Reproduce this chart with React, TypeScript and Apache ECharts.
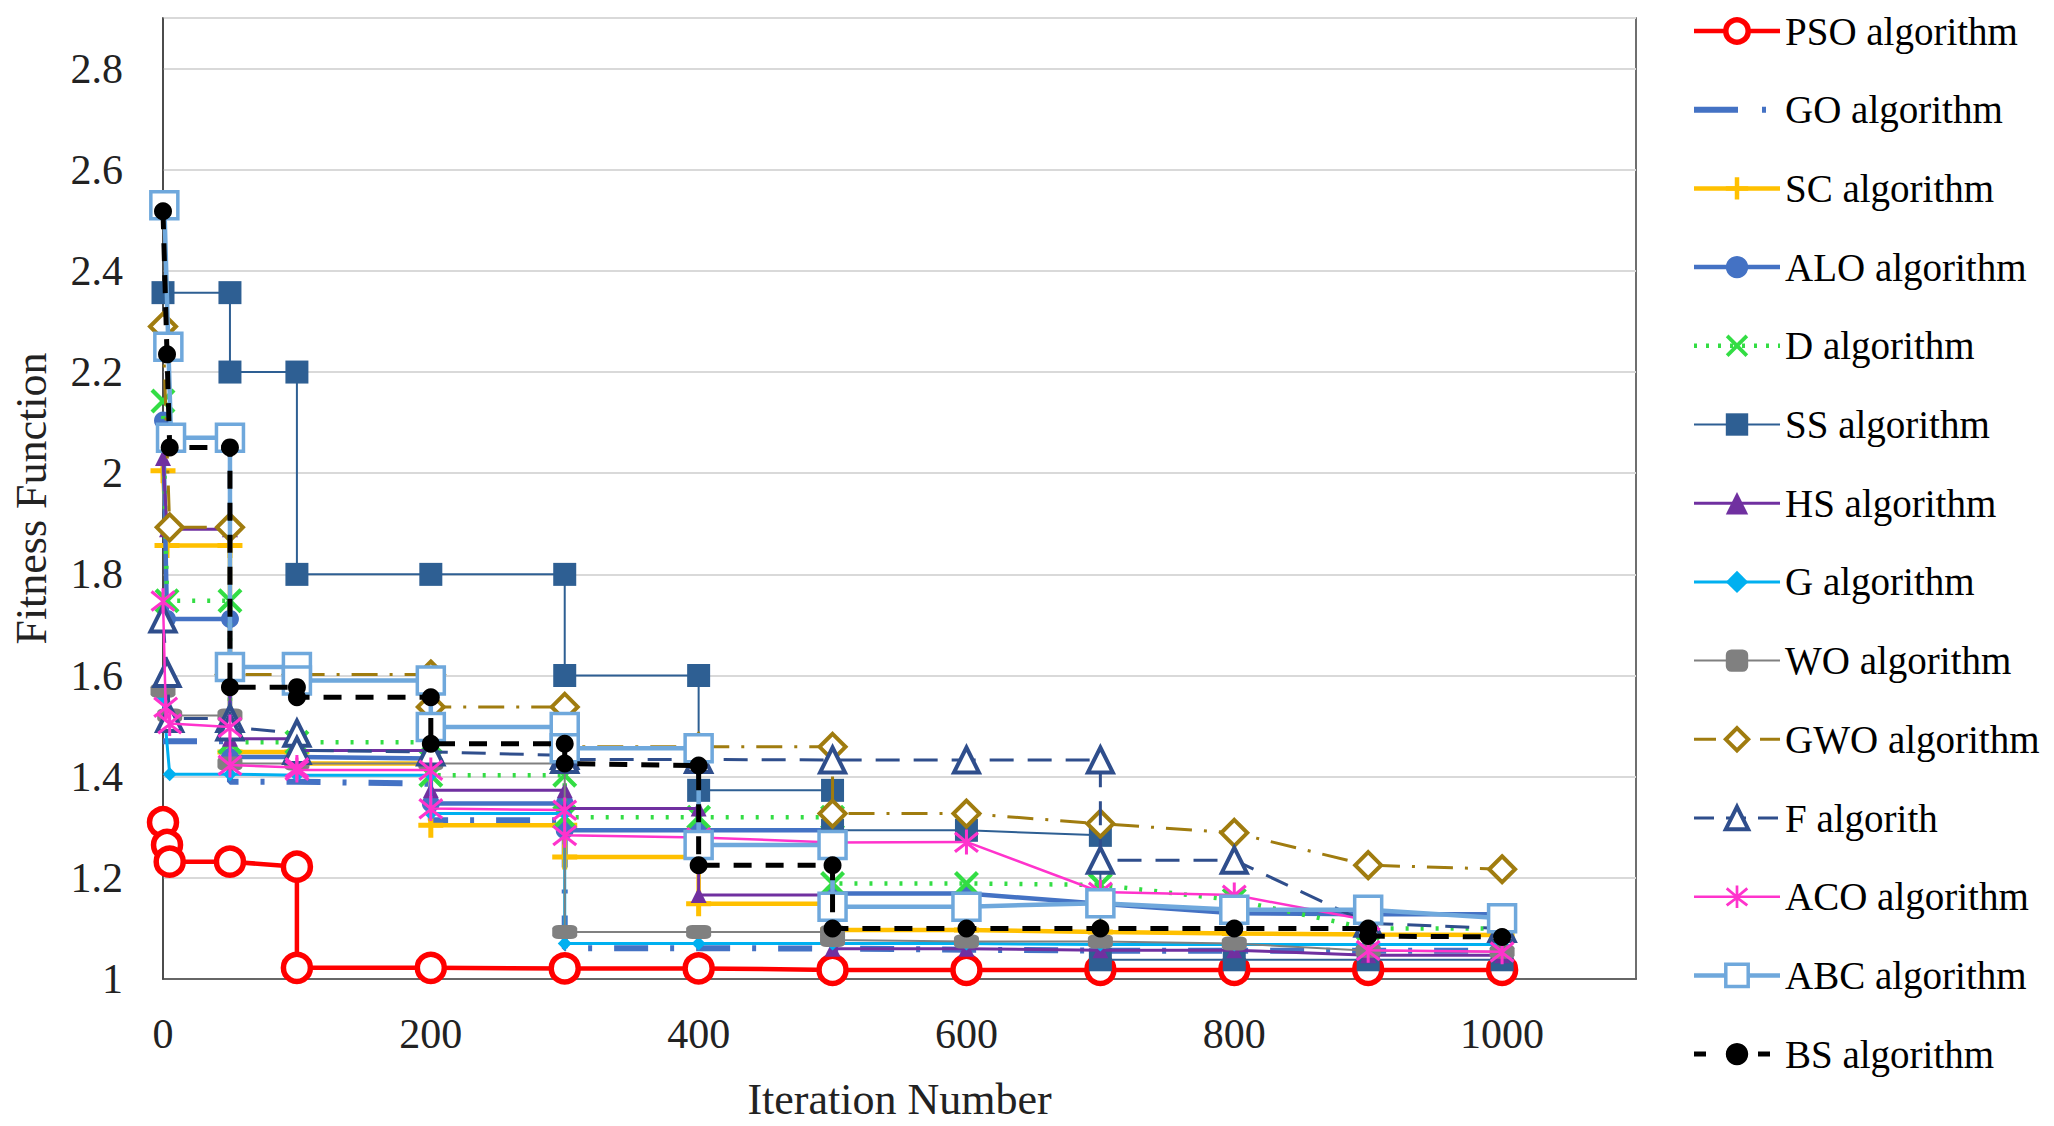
import React, { useEffect, useRef } from "react";
import * as echarts from "echarts";

// ---- data (x = iteration, y = fitness) ----
const names = [
  "PSO algorithm", "GO algorithm", "SC algorithm", "ALO algorithm", "D algorithm",
  "SS algorithm", "HS algorithm", "G algorithm", "WO algorithm", "GWO algorithm",
  "F algorith", "ACO algorithm", "ABC algorithm", "BS algorithm",
];
const xTicks = [0, 200, 400, 600, 800, 1000];

const pso = [[0,1.31],[3,1.265],[5,1.232],[50,1.232],[100,1.222],[100,1.022],[200,1.022],[300,1.021],[400,1.021],[500,1.018],[600,1.018],[700,1.018],[800,1.018],[900,1.018],[1000,1.018]];
const go = [[0,1.47],[50,1.47],[50,1.39],[100,1.39],[200,1.386],[200,1.314],[300,1.314],[300,1.061],[400,1.061],[500,1.06],[600,1.058],[700,1.056],[800,1.056],[900,1.056],[1000,1.056]];
const sc = [[0,2.005],[3,1.857],[50,1.857],[50,1.449],[100,1.449],[100,1.426],[200,1.426],[200,1.304],[300,1.304],[300,1.241],[400,1.241],[400,1.149],[500,1.149],[500,1.097],[600,1.097],[700,1.093],[800,1.09],[900,1.088],[1000,1.087]];
const alo = [[0,2.104],[3,1.712],[50,1.712],[50,1.439],[100,1.439],[200,1.436],[200,1.347],[300,1.347],[300,1.294],[400,1.294],[500,1.294],[500,1.169],[600,1.169],[700,1.149],[800,1.13],[900,1.128],[1000,1.128]];
const dAlg = [[0,2.143],[3,1.748],[50,1.748],[50,1.468],[100,1.468],[200,1.468],[200,1.403],[300,1.403],[300,1.32],[400,1.32],[500,1.32],[500,1.189],[600,1.189],[700,1.186],[800,1.156],[900,1.10],[1000,1.10]];
const ss = [[0,2.357],[50,2.357],[50,2.2],[100,2.2],[100,1.8],[200,1.8],[300,1.8],[300,1.6],[400,1.6],[400,1.373],[500,1.373],[500,1.294],[600,1.294],[700,1.284],[700,1.038],[800,1.038],[900,1.038],[1000,1.038]];
const hs = [[0,2.03],[3,1.889],[50,1.889],[50,1.475],[100,1.475],[100,1.452],[200,1.452],[200,1.373],[300,1.373],[300,1.337],[400,1.337],[400,1.166],[500,1.166],[500,1.06],[600,1.06],[700,1.057],[800,1.057],[900,1.047],[1000,1.047]];
const g = [[0,1.557],[5,1.405],[50,1.405],[100,1.403],[200,1.403],[200,1.327],[300,1.327],[300,1.07],[400,1.07],[500,1.07],[600,1.07],[700,1.068],[800,1.068],[900,1.068],[1000,1.068]];
const wo = [[0,1.57],[5,1.521],[50,1.521],[50,1.426],[100,1.426],[200,1.426],[300,1.426],[300,1.093],[400,1.093],[500,1.093],[500,1.077],[600,1.074],[700,1.074],[800,1.07],[900,1.056],[1000,1.054]];
const gwo = [[0,2.29],[5,1.893],[50,1.893],[50,1.602],[100,1.602],[200,1.602],[200,1.538],[300,1.538],[300,1.459],[400,1.459],[500,1.459],[500,1.327],[600,1.327],[700,1.307],[800,1.289],[900,1.225],[1000,1.217]];
const f = [[0,1.712],[3,1.604],[5,1.515],[50,1.515],[50,1.498],[100,1.486],[100,1.452],[200,1.449],[300,1.442],[300,1.434],[400,1.434],[500,1.433],[600,1.433],[700,1.433],[700,1.235],[800,1.235],[900,1.11],[1000,1.10]];
const aco = [[0,1.748],[2,1.538],[5,1.505],[50,1.498],[50,1.423],[100,1.418],[100,1.413],[200,1.413],[200,1.337],[300,1.334],[300,1.284],[400,1.28],[500,1.27],[600,1.271],[700,1.172],[800,1.166],[900,1.116],[900,1.057],[1000,1.054]];
const abc = [[1,2.53],[4,2.25],[6,2.07],[50,2.07],[50,1.617],[100,1.617],[100,1.59],[200,1.59],[200,1.498],[300,1.498],[300,1.456],[400,1.456],[400,1.265],[500,1.265],[500,1.143],[600,1.143],[700,1.15],[800,1.137],[900,1.137],[1000,1.12]];
const bs = [[0,2.518],[3,2.235],[5,2.051],[50,2.051],[50,1.577],[100,1.577],[100,1.557],[200,1.557],[200,1.465],[300,1.465],[300,1.426],[400,1.422],[400,1.225],[500,1.225],[500,1.10],[600,1.10],[700,1.10],[800,1.10],[900,1.10],[900,1.085],[1000,1.083]];

const FONT = "'Liberation Serif', 'Times New Roman', serif";

const PLUS = "path://M4,0H6V4H10V6H6V10H4V6H0V4H4Z";
const XMARK = "path://M0,1.2L1.2,0L5,3.8L8.8,0L10,1.2L6.2,5L10,8.8L8.8,10L5,6.2L1.2,10L0,8.8L3.8,5Z";
const STAR = "path://M4.4,0H5.6V10H4.4Z M0,1.8L0.8,0.8L5,4.3L9.2,0.8L10,1.8L5.8,5.2L10,8.4L9.2,9.4L5,6.1L0.8,9.4L0,8.4L4.2,5.2Z";

type Cfg = {
  data: number[][];
  color: string;
  width: number;
  dash?: any;
  legendDash?: any;
  symbol: string;
  size: any;
  hollow?: boolean;
  border?: number;
};

const cfgs: Cfg[] = [
  { data: pso, color: "#FF0000", width: 4.5, symbol: "circle", size: 27, hollow: true, border: 5.5 },
  { data: go, color: "#4472C4", width: 6, dash: [34, 22, 4, 22], legendDash: [44, 24, 4, 30], symbol: "none", size: 0 },
  { data: sc, color: "#FFC000", width: 4.5, symbol: PLUS, size: 25 },
  { data: alo, color: "#4472C4", width: 4.5, symbol: "circle", size: 18 },
  { data: dAlg, color: "#33DD44", width: 4.5, dash: [3, 12], legendDash: [3, 9], symbol: XMARK, size: 25 },
  { data: ss, color: "#2E5F93", width: 2, symbol: "rect", size: 23 },
  { data: hs, color: "#7030A0", width: 3, symbol: "triangle", size: 16 },
  { data: g, color: "#00B0F0", width: 3, symbol: "diamond", size: 14 },
  { data: wo, color: "#808080", width: 2, symbol: "roundRect", size: [25, 14] },
  { data: gwo, color: "#A07C0F", width: 3, dash: [26, 12, 3, 12], legendDash: [22, 44], symbol: "diamond", size: 26, hollow: true, border: 4 },
  { data: f, color: "#2F4E8C", width: 3, dash: [24, 14], legendDash: [20, 12], symbol: "triangle", size: 25, hollow: true, border: 4 },
  { data: aco, color: "#FF33CC", width: 2.5, symbol: STAR, size: 25 },
  { data: abc, color: "#6FA8DC", width: 4.5, symbol: "rect", size: 27, hollow: true, border: 3.5 },
  { data: bs, color: "#000000", width: 5, dash: [18, 14], legendDash: [12, 20], symbol: "circle", size: 18 },
];

export default function App() {
  const ref = useRef<HTMLDivElement>(null);
  useEffect(() => {
    if (!ref.current) return;
    const chart = echarts.init(ref.current, null, { renderer: "svg" });
    const series = cfgs.map((c, i) => ({
      name: names[i],
      type: "line",
      data: c.data,
      symbol: c.symbol,
      symbolSize: c.size,
      symbolKeepAspect: true,
      showSymbol: c.symbol !== "none",
      z: 2 + i,
      color: c.color,
      lineStyle: { color: c.color, width: c.width, type: c.dash ? c.dash : "solid" },
      itemStyle: c.hollow
        ? { color: "#FFFFFF", borderColor: c.color, borderWidth: c.border }
        : { color: c.color, borderWidth: 0 },
      emphasis: { disabled: true },
    }));
    const legendData = cfgs.map((c, i) => ({
      name: names[i],
      lineStyle: {
        color: c.color,
        width: c.width,
        type: c.legendDash ? c.legendDash : "solid",
        opacity: 1,
      },
      itemStyle:
        i === 1
          ? { opacity: 0 }
          : c.hollow
          ? { color: "#FFFFFF", borderColor: c.color, borderWidth: c.border, opacity: 1 }
          : { color: c.color, borderWidth: 0, opacity: 1 },
    }));
    chart.setOption({
      animation: false,
      backgroundColor: "#FFFFFF",
      grid: {
        left: 163, top: 18, right: 418, bottom: 147,
        show: true, borderColor: "#404040", borderWidth: 1.5, backgroundColor: "transparent",
      },
      legend: {
        orient: "vertical",
        left: 1686,
        top: 6,
        itemWidth: 86,
        itemHeight: 28,
        itemGap: 38.7,
        textStyle: { fontFamily: FONT, fontSize: 39, color: "#000", lineHeight: 40 },
        data: legendData,
      },
      xAxis: {
        type: "value",
        min: 0,
        max: 1100,
        interval: 200,
        name: "Iteration Number",
        nameLocation: "middle",
        nameGap: 98,
        nameTextStyle: { fontFamily: FONT, fontSize: 44, color: "#222" },
        axisLine: { show: true, lineStyle: { color: "#404040", width: 1.5 } },
        axisTick: { show: false },
        splitLine: { show: false },
        axisLabel: {
          fontFamily: FONT, fontSize: 42, color: "#222", margin: 34, showMaxLabel: false,
          formatter: (v: number) => (xTicks.includes(v) ? String(v) : ""),
        },
      },
      yAxis: {
        type: "value",
        min: 1,
        max: 2.9,
        interval: 0.2,
        name: "Fitness Function",
        nameLocation: "middle",
        nameGap: 110,
        nameTextStyle: { fontFamily: FONT, fontSize: 44, color: "#222" },
        axisLine: { show: true, lineStyle: { color: "#404040", width: 1.5 } },
        axisTick: { show: false },
        splitLine: { show: true, lineStyle: { color: "#D9D9D9", width: 2 } },
        axisLabel: {
          fontFamily: FONT, fontSize: 42, color: "#222", margin: 40, showMaxLabel: false,
          formatter: (v: number) => String(Math.round(v * 10) / 10),
        },
      },
      series,
    });
    return () => chart.dispose();
  }, []);
  return (
    <div
      ref={ref}
      style={{ position: "absolute", left: 0, top: 0, width: 2054, height: 1126 }}
    />
  );
}
